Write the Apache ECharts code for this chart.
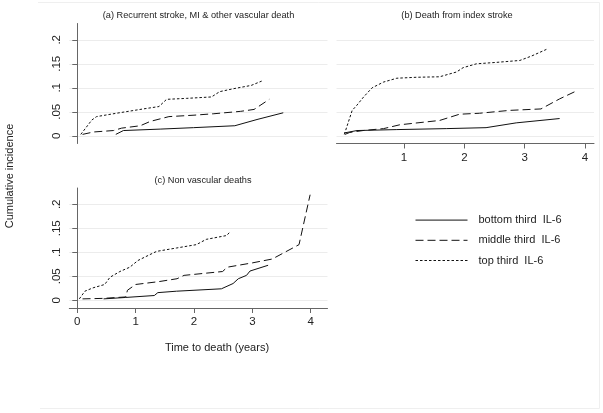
<!DOCTYPE html>
<html>
<head>
<meta charset="utf-8">
<script src="https://cdn.jsdelivr.net/npm/echarts@6/dist/echarts.min.js"></script>
<style>
html,body{margin:0;padding:0;background:#fff;}
#chart{width:603px;height:413px;}
</style>
</head>
<body>
<div id="chart"></div>
<script>
// ---- data (time in years, cumulative incidence) ----
const seriesNames = ['bottom third  IL-6', 'middle third  IL-6', 'top third  IL-6'];
const panelTitles = ['(a) Recurrent stroke, MI & other vascular death', '(b) Death from index stroke', '(c) Non vascular deaths'];
const yTicks = [0, 0.05, 0.1, 0.15, 0.2];
const xTicksB = [1, 2, 3, 4];
const xTicksC = [0, 1, 2, 3, 4];

const aBottom = [[0.66,0.003],[0.79,0.011],[1.42,0.014],[1.99,0.017],[2.70,0.021],[3.08,0.034],[3.53,0.048]];
const aMiddle = [[0.09,0.003],[0.28,0.008],[0.62,0.011],[0.76,0.016],[1.08,0.021],[1.25,0.030],[1.57,0.040],[2.0,0.043],[2.34,0.046],[2.80,0.051],[3.03,0.055],[3.29,0.076]];
const aTop = [[0.06,0.003],[0.25,0.033],[0.33,0.040],[0.67,0.047],[1.13,0.056],[1.40,0.061],[1.53,0.076],[1.87,0.078],[2.30,0.081],[2.44,0.092],[2.67,0.098],[2.98,0.105],[3.16,0.114]];

const bBottom = [[0.01,0.006],[0.22,0.011],[0.88,0.013],[1.70,0.015],[2.36,0.017],[2.86,0.027],[3.58,0.036]];
const bMiddle = [[0.02,0.003],[0.10,0.007],[0.32,0.011],[0.66,0.015],[0.93,0.023],[1.59,0.032],[1.92,0.045],[2.25,0.047],[2.75,0.053],[3.27,0.056],[3.58,0.077],[3.85,0.093]];
const bTop = [[0.01,0.003],[0.14,0.053],[0.22,0.064],[0.33,0.081],[0.47,0.100],[0.66,0.112],[0.88,0.120],[1.21,0.122],[1.59,0.123],[1.87,0.133],[1.98,0.142],[2.20,0.150],[2.53,0.153],[2.92,0.157],[3.11,0.166],[3.36,0.180]];

const cBottom = [[0.45,0.003],[0.83,0.006],[1.32,0.010],[1.38,0.016],[1.70,0.019],[2.47,0.024],[2.67,0.035],[2.76,0.045],[2.90,0.052],[2.96,0.061],[3.27,0.073]];
const cMiddle = [[0.09,0.003],[0.43,0.004],[0.83,0.007],[0.86,0.021],[1.00,0.033],[1.40,0.039],[1.71,0.045],[1.83,0.052],[2.49,0.060],[2.57,0.069],[3.00,0.078],[3.34,0.086],[3.80,0.116],[3.99,0.220]];
const cTop = [[0.035,0.003],[0.13,0.019],[0.27,0.026],[0.47,0.033],[0.56,0.048],[0.73,0.060],[0.90,0.069],[1.04,0.083],[1.24,0.095],[1.36,0.102],[1.70,0.109],[2.04,0.116],[2.21,0.127],[2.56,0.135],[2.62,0.143]];

// ---- styling ----
const FONT = 'Liberation Sans, Arial, sans-serif';
const INK = '#111';
const AXIS = '#666';
const GRIDC = '#ececec';
const dashTypes = ['solid', [8, 4], [2.5, 2]];

function yFmt(v) { return v === 0 ? '0' : String(+v.toFixed(2)).replace(/^0/, ''); }

function yAxisCfg(idx, visible) {
  return {
    type: 'value', gridIndex: idx, min: -0.016, max: 0.234,
    axisLine: { show: visible, lineStyle: { color: AXIS, width: 1 } },
    axisTick: { show: visible, length: 5, customValues: yTicks, lineStyle: { color: AXIS } },
    axisLabel: { show: visible, customValues: yTicks, rotate: 90, margin: 6, formatter: yFmt,
                 fontSize: 11.5, color: '#222', fontFamily: FONT },
    splitLine: { show: true, lineStyle: { color: GRIDC, width: 1 } }
  };
}
function xAxisCfg(idx, min, max, ticks, visible) {
  return {
    type: 'value', gridIndex: idx, min: min, max: max,
    show: visible,
    axisLine: { show: true, onZero: false, lineStyle: { color: AXIS, width: 1 } },
    axisTick: { show: true, length: 5, customValues: ticks || [], lineStyle: { color: AXIS } },
    axisLabel: { show: true, customValues: ticks || [], margin: 8, fontSize: 11.5, color: '#222', fontFamily: FONT },
    splitLine: { show: false }
  };
}
function mk(nameIdx, data, axisIdx) {
  return {
    type: 'line', name: seriesNames[nameIdx], data: data,
    xAxisIndex: axisIdx, yAxisIndex: axisIdx,
    symbol: 'none', silent: true, animation: false,
    lineStyle: { color: INK, width: 1, type: dashTypes[nameIdx] },
    itemStyle: { color: INK }
  };
}

const chart = echarts.init(document.getElementById('chart'), null, { renderer: 'canvas' });
chart.setOption({
  animation: false,
  backgroundColor: '#fff',
  title: [
    { text: panelTitles[0], left: 193.5, top: 5.5, textAlign: 'center',
      textStyle: { fontSize: 9.2, fontWeight: 'normal', color: '#222', fontFamily: FONT } },
    { text: panelTitles[1], left: 452, top: 5.5, textAlign: 'center',
      textStyle: { fontSize: 9.2, fontWeight: 'normal', color: '#222', fontFamily: FONT } },
    { text: panelTitles[2], left: 198, top: 171, textAlign: 'center',
      textStyle: { fontSize: 9.2, fontWeight: 'normal', color: '#222', fontFamily: FONT } }
  ],
  grid: [
    { left: 69.3, top: 23.5, width: 258.2, height: 120 },
    { left: 336.5, top: 23.5, width: 257.5, height: 120 },
    { left: 69.3, top: 188, width: 258.2, height: 120 }
  ],
  xAxis: [
    xAxisCfg(0, -0.137, 4.288, [], false),
    xAxisCfg(1, -0.12, 4.15, xTicksB, true),
    xAxisCfg(2, -0.137, 4.288, xTicksC, true)
  ],
  yAxis: [yAxisCfg(0, true), yAxisCfg(1, false), yAxisCfg(2, true)],
  legend: {
    orient: 'vertical', left: 410, top: 209.5,
    itemWidth: 52, itemHeight: 14, itemGap: 9,
    data: seriesNames,
    itemStyle: { opacity: 0 },
    lineStyle: { width: 1 },
    textStyle: { fontSize: 11, color: '#222', fontFamily: FONT, padding: [0, 0, 0, 6] }
  },
  graphic: [
    { type: 'polyline', silent: true, z: -10,
      shape: { points: [[38, 2.5], [599.5, 2.5], [599.5, 408.5], [40, 408.5]] },
      style: { fill: 'none', stroke: '#efefef', lineWidth: 1 } },
    { type: 'text', silent: true, x: 10, y: 176, rotation: Math.PI / 2,
      style: { text: 'Cumulative incidence', fontSize: 11, fill: '#222', fontFamily: FONT,
               align: 'center', verticalAlign: 'middle' } },
    { type: 'text', silent: true, x: 217, y: 348,
      style: { text: 'Time to death (years)', fontSize: 11, fill: '#222', fontFamily: FONT,
               align: 'center', verticalAlign: 'middle' } }
  ],
  series: [
    mk(0, aBottom, 0), mk(1, aMiddle, 0), mk(2, aTop, 0),
    mk(0, bBottom, 1), mk(1, bMiddle, 1), mk(2, bTop, 1),
    mk(0, cBottom, 2), mk(1, cMiddle, 2), mk(2, cTop, 2)
  ]
});
</script>
</body>
</html>
